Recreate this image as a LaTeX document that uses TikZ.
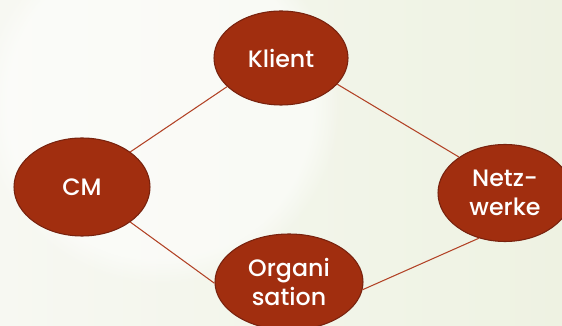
\documentclass[tikz,border=0pt]{standalone}
\usepackage{fontspec}
\setmainfont{Poppins}[UprightFont=* Medium]
\usetikzlibrary{positioning, shapes.geometric, fadings}

\definecolor{rust}{RGB}{161,46,15}
\definecolor{rustdark}{RGB}{120,34,14}
\definecolor{wire}{RGB}{178,66,38}
\definecolor{paleleft}{RGB}{247,248,242}
\definecolor{paleright}{RGB}{238,242,226}

\tikzset{
  blob/.style={ellipse, fill=rust, draw=rustdark, line width=0.6pt,
    text=white, font=\fontsize{13.5}{16.5}\selectfont, align=center,
    minimum width=2.7cm, minimum height=1.92cm, inner sep=0pt},
  wire/.style={draw=wire, line width=0.6pt}
}

\begin{document}
\begin{tikzpicture}[node distance=1cm, on grid]
    \useasboundingbox (0,0) rectangle (11.24,6.5);
    \clip (0,0) rectangle (11.24,6.5);
    % background
    \shade[left color=paleleft, right color=paleright] (0,0) rectangle (11.24,6.5);
    \fill[white, path fading=circle with fuzzy edge 15 percent, opacity=0.55] (3.2,4.4) circle (3.6cm);

    \node (klient) [blob, minimum width=2.68cm, minimum height=1.88cm] at (5.62,5.34) {Klient};
    \node (cm) [blob, below left=2.58cm and 3.98cm of klient, minimum width=2.72cm, minimum height=1.96cm] {CM};
    \node (netz) [blob, below right=2.7cm and 4.48cm of klient, minimum width=2.68cm, minimum height=1.94cm] {Netz-\\werke};
    \node (orga) [blob, below right=4.48cm and 0.16cm of klient, minimum width=2.96cm, minimum height=1.92cm] {Organi\\sation};

    \path[wire]
    (cm.36) edge (klient.-152)
    (klient.-25) edge (netz.142)
    (cm.-36) edge (orga.181)
    (orga.-6) edge (netz.-120);
\end{tikzpicture}
\end{document}
